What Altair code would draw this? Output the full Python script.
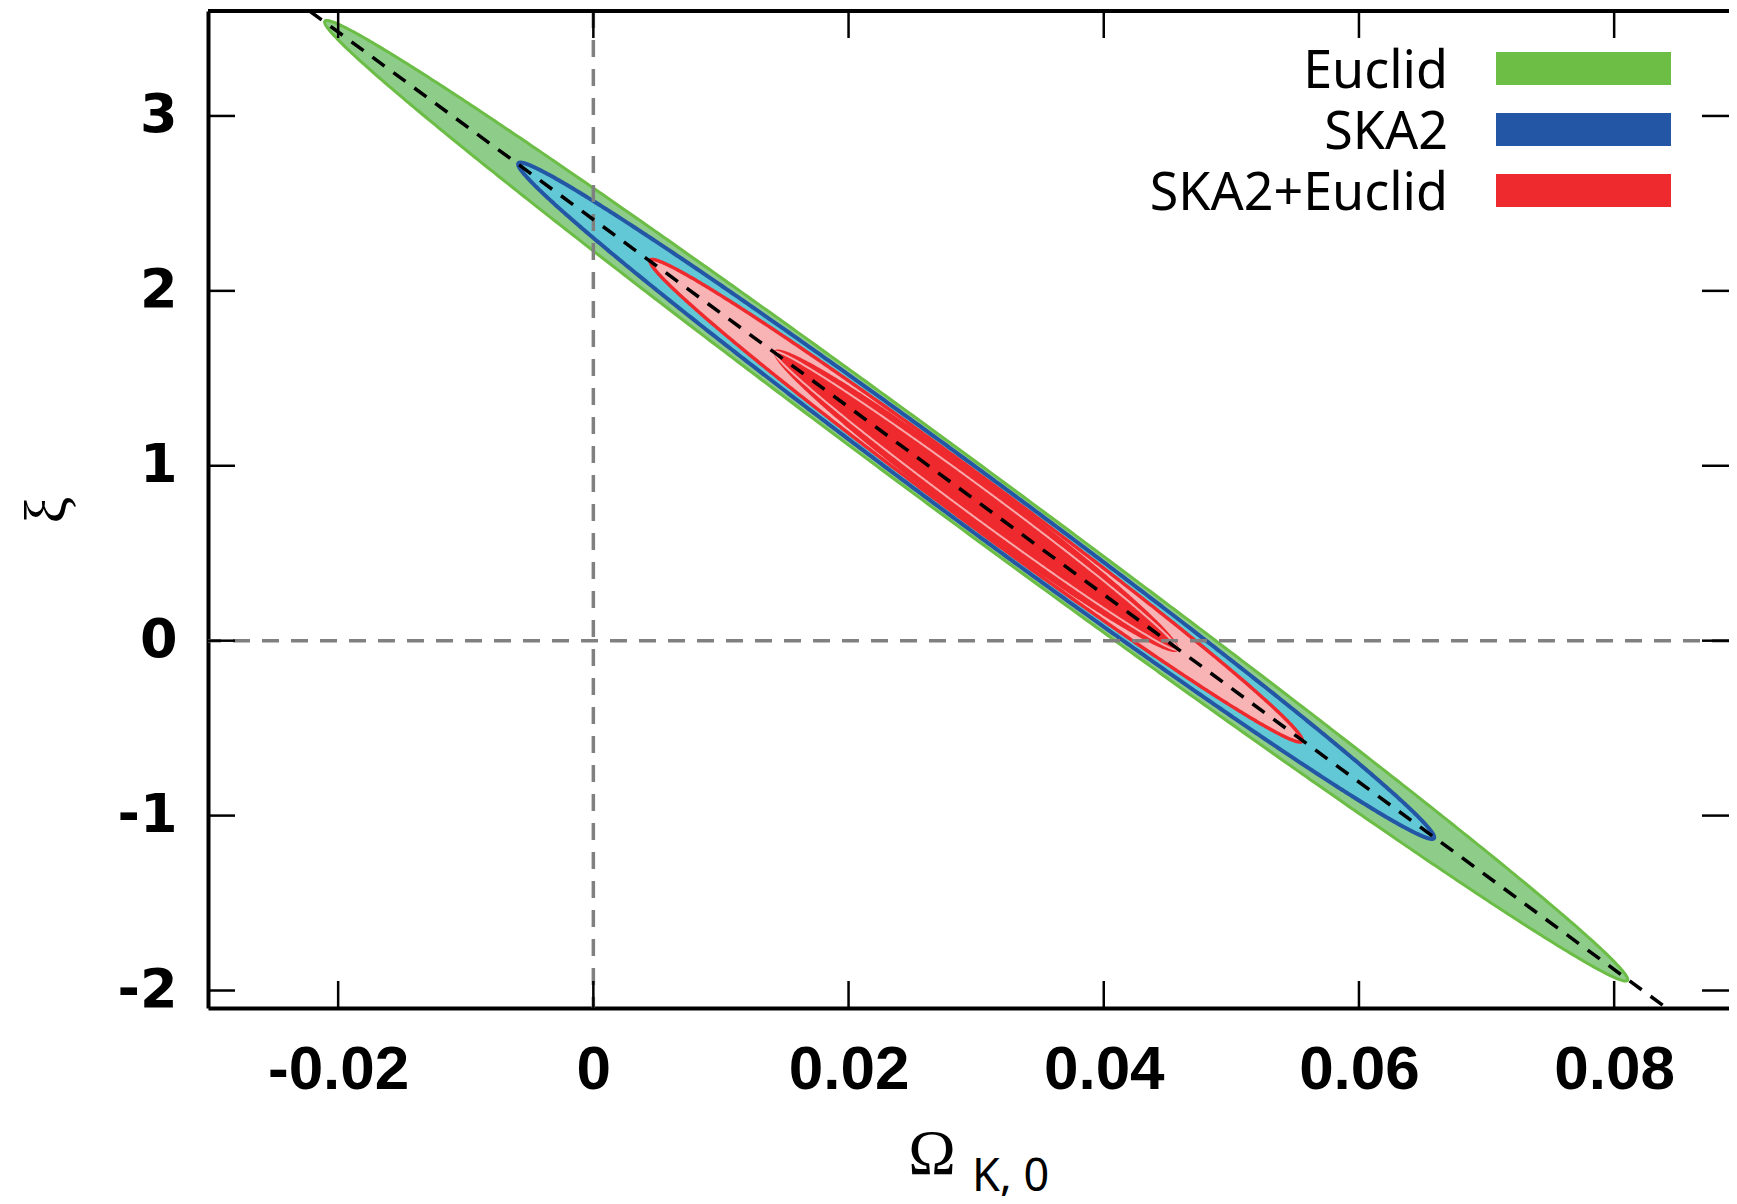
import json
import numpy as np
import pandas as pd
import altair as alt

# ---------------- data ----------------
x_domain = [-0.0302, 0.0890]
y_domain = [-2.1, 3.6]
x_ticks = [-0.02, 0.0, 0.02, 0.04, 0.06, 0.08]
x_tick_labels = ["-0.02", "0", "0.02", "0.04", "0.06", "0.08"]
y_ticks = [-2, -1, 0, 1, 2, 3]
y_tick_labels = ["-2", "-1", "0", "1", "2", "3"]

# forecast contours (all share the same fiducial centre and degeneracy direction)
center_x = 0.0300
center_y = 0.800
degeneracy_slope = -53.6          # d(xi)/d(Omega_K) along the major axis
ellipse_names = ["Euclid 2sigma", "SKA2 2sigma", "SKA2+Euclid 2sigma",
                 "SKA2+Euclid 1sigma", "SKA2+Euclid 1sigma inner line"]
ellipse_semi_major_dy = [2.737, 1.924, 1.370, 0.846, 0.846]   # xi extent centre -> tip
ellipse_half_thickness = [0.222, 0.192, 0.163, 0.150, 0.100]  # vertical half chord at centre (xi)

legend_names = ["Euclid", "SKA2", "SKA2+Euclid"]

ref_x = [0.0]
ref_y = [0.0]
degeneracy_y = [3.6, -2.1]

# ---------------- styles / layout ----------------
W, H = 1521, 997
ellipse_fill = ["#8dcc89", "#63c8d5", "#f8b3b4", "#ee2a2e", None]
ellipse_stroke = ["#6cbd45", "#2356a5", "#ee2a2e", "#ee2a2e", "#f7a9ab"]
ellipse_stroke_w = [3, 4, 3.5, 2, 2]
legend_colors = ["#6cbe45", "#2356a5", "#ee2a2e"]

xs = alt.Scale(domain=x_domain, nice=False, zero=False)
ys = alt.Scale(domain=y_domain, nice=False, zero=False)


def ellipse_frame(semi_dy, half_w):
    dx = semi_dy / abs(degeneracy_slope)
    u = np.cos(np.linspace(np.pi, 0, 400))
    x = center_x + dx * u
    mid = center_y + degeneracy_slope * dx * u
    s = half_w * np.sqrt(np.clip(1 - u ** 2, 0, None))
    return pd.DataFrame({"x": x, "y_lo": mid - s, "y_hi": mid + s})


layers = []
for i, name in enumerate(ellipse_names):
    df = ellipse_frame(ellipse_semi_major_dy[i], ellipse_half_thickness[i])
    style = dict(stroke=ellipse_stroke[i], strokeWidth=ellipse_stroke_w[i],
                 strokeJoin="round", clip=True)
    if ellipse_fill[i] is not None:
        style["fill"] = ellipse_fill[i]
    else:
        style["fillOpacity"] = 0
    layers.append(
        alt.Chart(df).mark_area(**style).encode(
            x=alt.X("x:Q", scale=xs),
            y=alt.Y("y_lo:Q", scale=ys),
            y2="y_hi:Q",
        )
    )

# reference dashed lines at 0
layers.append(
    alt.Chart(pd.DataFrame({"x": ref_x})).mark_rule(
        color="#808080", strokeWidth=3.5, strokeDash=[17, 12]
    ).encode(x=alt.X("x:Q", scale=xs))
)
layers.append(
    alt.Chart(pd.DataFrame({"y": ref_y})).mark_rule(
        color="#808080", strokeWidth=3.5, strokeDash=[17, 12]
    ).encode(y=alt.Y("y:Q", scale=ys))
)

# degeneracy line (carries the axes)
deg_x = [center_x + (yy - center_y) / degeneracy_slope for yy in degeneracy_y]
x_axis = alt.Axis(
    values=x_ticks,
    labelExpr=f"{json.dumps(x_tick_labels)}[indexof({json.dumps(x_ticks)}, datum.value)]",
    ticks=False, tickSize=0, grid=False, domain=True, domainColor="black", domainWidth=4,
    labelFont="Liberation Sans", labelFontWeight="bold", labelFontSize=62, labelColor="black",
    labelPadding=61, labelBaseline="middle", labelOverlap=False, labelBound=False, title=None,
)
y_axis = alt.Axis(
    values=y_ticks,
    labelExpr=f"{json.dumps(y_tick_labels)}[indexof({json.dumps(y_ticks)}, datum.value)]",
    ticks=False, tickSize=0, grid=False, domain=True, domainColor="black", domainWidth=4,
    labelFont="DejaVu Sans", labelFontWeight="bold", labelFontSize=54, labelColor="black",
    labelPadding=31, labelAlign="right", labelBaseline="middle", labelOverlap=False,
    labelBound=False, title=None,
)
layers.append(
    alt.Chart(pd.DataFrame({"x": deg_x, "y": degeneracy_y})).mark_line(
        color="black", strokeWidth=3.5, strokeDash=[15, 11], clip=True
    ).encode(
        x=alt.X("x:Q", scale=xs, axis=x_axis),
        y=alt.Y("y:Q", scale=ys, axis=y_axis),
    )
)

# inward ticks on all four sides + top frame line
xt = pd.DataFrame({"x": x_ticks})
yt = pd.DataFrame({"y": y_ticks})
tick_style = dict(color="black", strokeWidth=2.5)
layers += [
    alt.Chart(xt).mark_rule(**tick_style).encode(x=alt.X("x:Q", scale=xs), y=alt.value(H), y2=alt.value(H - 27)),
    alt.Chart(xt).mark_rule(**tick_style).encode(x=alt.X("x:Q", scale=xs), y=alt.value(0), y2=alt.value(27)),
    alt.Chart(yt).mark_rule(**tick_style).encode(y=alt.Y("y:Q", scale=ys), x=alt.value(0), x2=alt.value(27)),
    alt.Chart(yt).mark_rule(**tick_style).encode(y=alt.Y("y:Q", scale=ys), x=alt.value(W), x2=alt.value(W - 27)),
    alt.Chart(pd.DataFrame({"a": [0]})).mark_rule(color="black", strokeWidth=4).encode(
        x=alt.value(0), x2=alt.value(W), y=alt.value(0)
    ),
]

# legend (labels to the left of colour bars)
for i, name in enumerate(legend_names):
    layers.append(
        alt.Chart(pd.DataFrame({"label": [name]})).mark_text(
            font="Noto Sans", fontSize=52, align="right", baseline="alphabetic", color="black"
        ).encode(text="label:N", x=alt.value(1240), y=alt.value(77 + 61 * i))
    )
    layers.append(
        alt.Chart(pd.DataFrame({"label": [name]})).mark_rect(color=legend_colors[i]).encode(
            x=alt.value(1288), x2=alt.value(1463), y=alt.value(41 + 61 * i), y2=alt.value(74 + 61 * i)
        )
    )

# axis titles
layers.append(
    alt.Chart(pd.DataFrame({"t": ["Ω"]})).mark_text(
        font="Liberation Serif", fontSize=64, align="center", baseline="alphabetic", color="black"
    ).encode(text="t:N", x=alt.value(724), y=alt.value(1163))
)
layers.append(
    alt.Chart(pd.DataFrame({"t": ["K, 0"]})).mark_text(
        font="Noto Sans", fontSize=45, align="left", baseline="alphabetic", color="black"
    ).encode(text="t:N", x=alt.value(764), y=alt.value(1180))
)
layers.append(
    alt.Chart(pd.DataFrame({"t": ["ξ"]})).mark_text(
        font="Liberation Serif", fontSize=60, align="center", baseline="middle", angle=270, color="black"
    ).encode(text="t:N", x=alt.value(-160), y=alt.value(499))
)

chart = alt.layer(*layers).properties(
    width=W, height=H,
    padding={"left": 200, "top": 3, "right": 0, "bottom": 188},
    autosize=alt.AutoSizeParams(type="none"),
).configure_view(stroke=None)

chart.save("out.html", embed_options={"renderer": "svg", "actions": False})
